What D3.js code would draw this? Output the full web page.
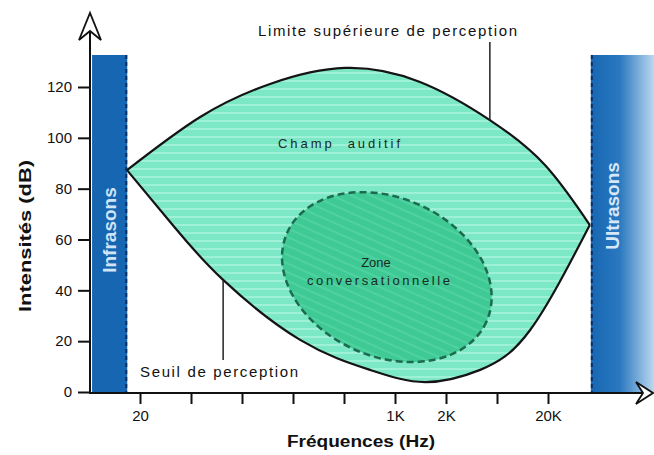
<!DOCTYPE html>
<html><head><meta charset="utf-8">
<script src="https://cdn.jsdelivr.net/npm/d3@7"></script>
<style>
html,body{margin:0;padding:0;background:#fff;}
svg{display:block;font-family:"Liberation Sans",Arial,sans-serif;}
</style></head>
<body>
<svg id="c" width="654" height="455"></svg>
<script>
// ---- data ----
// frequency axis positions (tick index) and labels
const xTickIdx = [0,1,2,3,4,5,6,7,8];
const xTickLabels = ["20","","","","","1K","2K","","20K"];
const yTicks = [0,20,40,60,80,100,120];
// upper limit of perception: [freq index, dB]
const upperCurve = [[-0.255,87.3],[1.18,108.2],[2.55,121.2],[4.02,127.5],[5.49,122.0],[6.86,107],[7.94,89.3],[8.82,65.7]];
// threshold of perception: [freq index, dB]
const lowerCurve = [[-0.255,87.3],[0.69,64.5],[1.63,44.1],[3.14,20.5],[4.51,8.7],[5.59,3.9],[6.67,8.7],[7.65,24.4],[8.82,65.7]];
// conversation zone: centre [freq index, dB], semi-axes [freq units, dB units], tilt (deg)
const zoneCenter = [4.84,45.2];
const zoneAxes = [2.14,31.2];
const zoneTilt = 24;
// infrasound / ultrasound bands (freq index), band top (dB)
const infraBand = [-0.94,-0.25];
const ultraBand = [8.84,10.1];
const bandTop = 132.6;

const svg = d3.select("#c");
const x = d3.scaleLinear().domain([0,8]).range([140,548]);
const y = d3.scaleLinear().domain([0,120]).range([392,87]);

const defs = svg.append("defs");
const pat = defs.append("pattern").attr("id","stripes").attr("patternUnits","userSpaceOnUse")
  .attr("width",10).attr("height",8);
pat.append("rect").attr("width",10).attr("height",8).attr("fill","#7de8c6");
pat.append("rect").attr("y",0).attr("width",10).attr("height",2).attr("fill","#9ef0d6");
const pat2 = defs.append("pattern").attr("id","stripes2").attr("patternUnits","userSpaceOnUse")
  .attr("width",10).attr("height",8);
pat2.append("rect").attr("width",10).attr("height",8).attr("fill","#3fca95");
pat2.append("rect").attr("y",0).attr("width",10).attr("height",2).attr("fill","#4fd2a0");
const grad = defs.append("linearGradient").attr("id","ultra").attr("x1","0").attr("x2","1").attr("y1","0").attr("y2","0");
grad.append("stop").attr("offset","0").attr("stop-color","#1867b3");
grad.append("stop").attr("offset","0.45").attr("stop-color","#2a78c0");
grad.append("stop").attr("offset","1").attr("stop-color","#c0dbf0");

// bands
svg.append("rect").attr("x",x(infraBand[0])).attr("y",y(bandTop))
  .attr("width",x(infraBand[1])-x(infraBand[0])).attr("height",y(0)-y(bandTop)+1).attr("fill","#1766b2");
svg.append("line").attr("x1",x(infraBand[1])-1).attr("x2",x(infraBand[1])-1).attr("y1",y(bandTop)).attr("y2",y(0))
  .attr("stroke","#0b2f63").attr("stroke-width",2).attr("stroke-dasharray","4,3");
svg.append("rect").attr("x",x(ultraBand[0])).attr("y",y(bandTop))
  .attr("width",x(ultraBand[1])-x(ultraBand[0])).attr("height",y(0)-y(bandTop)+1).attr("fill","url(#ultra)");
svg.append("line").attr("x1",x(ultraBand[0])+1).attr("x2",x(ultraBand[0])+1).attr("y1",y(bandTop)).attr("y2",y(0))
  .attr("stroke","#0b2f63").attr("stroke-width",2).attr("stroke-dasharray","4,3");

svg.append("text").attr("transform",`translate(${(x(infraBand[0])+x(infraBand[1]))/2+6},230) rotate(-90)`)
  .attr("text-anchor","middle").attr("font-size",19).attr("font-weight","bold").attr("fill","#cfe4f7").text("Infrasons");
svg.append("text").attr("transform",`translate(${x(ultraBand[0])+28},206) rotate(-90)`)
  .attr("text-anchor","middle").attr("font-size",19).attr("font-weight","bold").attr("fill","#d6e8f7").text("Ultrasons");

// lens
const line = d3.line().x(d=>x(d[0])).y(d=>y(d[1])).curve(d3.curveNatural);
const upPath = line(upperCurve);
const lowPath = line(lowerCurve.slice().reverse());
const lensPath = upPath + "L" + lowPath.slice(1) + "Z";
svg.append("path").attr("d",lensPath).attr("fill","url(#stripes)").attr("stroke","none");

// zone
const cx = x(zoneCenter[0]), cy = y(zoneCenter[1]);
const rx = x(zoneAxes[0]) - x(0), ry = y(0) - y(zoneAxes[1]);
svg.append("ellipse").attr("cx",cx).attr("cy",cy).attr("rx",rx).attr("ry",ry)
  .attr("transform",`rotate(${zoneTilt},${cx},${cy})`)
  .attr("fill","url(#stripes2)").attr("stroke","#1d6b4e").attr("stroke-width",2.5).attr("stroke-dasharray","7,4");

svg.append("path").attr("d",upPath).attr("fill","none").attr("stroke","#141414").attr("stroke-width",2.2);
svg.append("path").attr("d",lowPath).attr("fill","none").attr("stroke","#141414").attr("stroke-width",2.2);

// leader lines
svg.append("line").attr("x1",x(6.86)).attr("x2",x(6.86)).attr("y1",y(137.7)).attr("y2",y(107))
  .attr("stroke","#222").attr("stroke-width",1.5);
svg.append("line").attr("x1",x(1.63)).attr("x2",x(1.63)).attr("y1",y(44.1)).attr("y2",y(12.6))
  .attr("stroke","#222").attr("stroke-width",1.5);

// labels
svg.append("text").attr("x",258).attr("y",36).attr("font-size",15).attr("fill","#111")
  .attr("textLength",259).attr("lengthAdjust","spacing").text("Limite supérieure de perception");
svg.append("text").attr("x",140).attr("y",377).attr("font-size",15).attr("fill","#111")
  .attr("textLength",158).attr("lengthAdjust","spacing").text("Seuil de perception");
svg.append("text").attr("x",278).attr("y",148).attr("font-size",13).attr("fill","#1a2a24")
  .attr("textLength",122).attr("lengthAdjust","spacing").attr("xml:space","preserve").text("Champ  auditif");
svg.append("text").attr("x",376).attr("y",267).attr("font-size",13).attr("fill","#1a2a24")
  .attr("text-anchor","middle").text("Zone");
svg.append("text").attr("x",307).attr("y",285).attr("font-size",13).attr("fill","#1a2a24")
  .attr("textLength",143).attr("lengthAdjust","spacing").text("conversationnelle");

// axes
const yAxis = d3.axisLeft(y).tickValues(yTicks).tickSize(12).tickPadding(6);
const gy = svg.append("g").attr("transform","translate(90,0)").call(yAxis);
gy.select(".domain").remove();
gy.selectAll(".tick line").attr("stroke","#111").attr("stroke-width",2);
gy.selectAll(".tick text").attr("font-size",15).attr("fill","#111").attr("font-family",null);

const xAxis = d3.axisBottom(x).tickValues(xTickIdx).tickFormat((d,i)=>xTickLabels[i]).tickSize(11).tickPadding(6);
const gx = svg.append("g").attr("transform","translate(0,393)").call(xAxis);
gx.select(".domain").remove();
gx.selectAll(".tick line").attr("stroke","#111").attr("stroke-width",2);
gx.selectAll(".tick text").attr("font-size",15).attr("fill","#111").attr("font-family",null);

svg.append("line").attr("x1",90).attr("x2",90).attr("y1",30).attr("y2",394).attr("stroke","#111").attr("stroke-width",2);
svg.append("line").attr("x1",89).attr("x2",645).attr("y1",393).attr("y2",393).attr("stroke","#111").attr("stroke-width",2);
svg.append("path").attr("d","M79,40 L90,13 L101,40 L90,31 Z").attr("fill","#fff").attr("stroke","#111").attr("stroke-width",1.8);
svg.append("path").attr("d","M636,382 L653,393 L636,404 L643,393 Z").attr("fill","#fff").attr("stroke","#111").attr("stroke-width",1.8);

svg.append("text").attr("x",287).attr("y",447).attr("font-size",16).attr("font-weight","bold").attr("fill","#111")
  .attr("textLength",148).attr("lengthAdjust","spacingAndGlyphs").text("Fréquences (Hz)");
svg.append("text").attr("transform","translate(31,236) rotate(-90)").attr("text-anchor","middle")
  .attr("font-size",16).attr("font-weight","bold").attr("fill","#111")
  .attr("textLength",152).attr("lengthAdjust","spacingAndGlyphs").text("Intensités (dB)");
</script>
</body></html>
